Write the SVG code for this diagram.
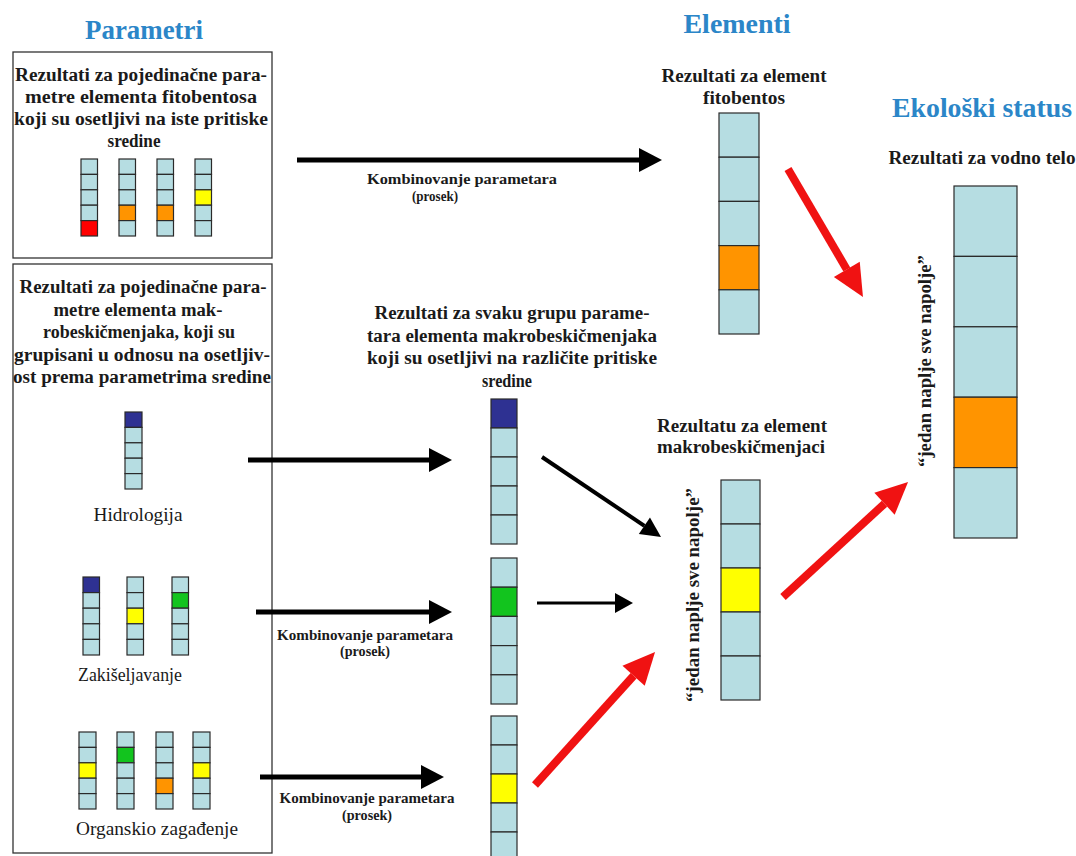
<svg xmlns="http://www.w3.org/2000/svg" width="1076" height="856" viewBox="0 0 1076 856" font-family="'Liberation Serif', 'DejaVu Serif', serif">
<style>
text{font-family:'Liberation Serif','DejaVu Serif',serif;font-weight:bold;fill:#1a1a1a;text-anchor:middle}
.t{font-size:27px;fill:#2b86c8}
.b{font-size:18px}
.k{font-size:14px}
.n{font-size:18px;font-weight:normal}
.r{font-size:18px}
.box{fill:#fff;stroke:#333;stroke-width:1.3}
.c{fill:#b6dde2;stroke:#2a2a2a;stroke-width:1.2}
.red{fill:#ff0000}.org{fill:#ff9400}.yel{fill:#ffff00}.grn{fill:#12c41e}.blu{fill:#2e3192}
.ab{stroke:#000;fill:none}
.ar{stroke:#f01212;stroke-width:8;fill:none}
</style>
<defs>
<marker id="hb" markerUnits="userSpaceOnUse" orient="auto" refX="0" refY="0" markerWidth="30" markerHeight="30" viewBox="0 -15 30 30" overflow="visible"><path d="M0,-12 L23,0 L0,12 z" fill="#000"/></marker>
<marker id="hbs" markerUnits="userSpaceOnUse" orient="auto" refX="0" refY="0" markerWidth="30" markerHeight="30" viewBox="0 -15 30 30" overflow="visible"><path d="M0,-10 L20,0 L0,10 z" fill="#000"/></marker>
<marker id="hbx" markerUnits="userSpaceOnUse" orient="auto" refX="0" refY="0" markerWidth="30" markerHeight="30" viewBox="0 -15 30 30" overflow="visible"><path d="M0,-10 L18,0 L0,10 z" fill="#000"/></marker>
<marker id="hr" markerUnits="userSpaceOnUse" orient="auto" refX="0" refY="0" markerWidth="40" markerHeight="40" viewBox="0 -20 40 40" overflow="visible"><path d="M0,-15 L32,0 L0,15 z" fill="#f01212"/></marker>
</defs>
<rect width="1076" height="856" fill="#fff"/>

<g id="titles">
<text class="t" x="144" y="39" textLength="118" lengthAdjust="spacingAndGlyphs">Parametri</text>
<text class="t" x="737" y="33" textLength="107" lengthAdjust="spacingAndGlyphs">Elementi</text>
<text class="t" x="982" y="117" textLength="180" lengthAdjust="spacingAndGlyphs">Ekološki status</text>
</g>

<g id="fito-params">
<rect class="box" x="13" y="52" width="259" height="206"/>
<text class="b" x="141" y="81" textLength="252" lengthAdjust="spacingAndGlyphs">Rezultati za pojedinačne para-</text>
<text class="b" x="141" y="103" textLength="232" lengthAdjust="spacingAndGlyphs">metre elementa fitobentosa</text>
<text class="b" x="141" y="125" textLength="254" lengthAdjust="spacingAndGlyphs">koji su osetljivi na iste pritiske</text>
<text class="b" x="134" y="147" textLength="53" lengthAdjust="spacingAndGlyphs">sredine</text>
<g>
<rect class="c" x="81" y="159" width="16.5" height="15.4"/><rect class="c" x="81" y="174.4" width="16.5" height="15.4"/><rect class="c" x="81" y="189.8" width="16.5" height="15.4"/><rect class="c" x="81" y="205.2" width="16.5" height="15.4"/><rect class="c red" x="81" y="220.6" width="16.5" height="15.4"/>
</g>
<g>
<rect class="c" x="119" y="159" width="16.5" height="15.4"/><rect class="c" x="119" y="174.4" width="16.5" height="15.4"/><rect class="c" x="119" y="189.8" width="16.5" height="15.4"/><rect class="c org" x="119" y="205.2" width="16.5" height="15.4"/><rect class="c" x="119" y="220.6" width="16.5" height="15.4"/>
</g>
<g>
<rect class="c" x="157" y="159" width="16.5" height="15.4"/><rect class="c" x="157" y="174.4" width="16.5" height="15.4"/><rect class="c" x="157" y="189.8" width="16.5" height="15.4"/><rect class="c org" x="157" y="205.2" width="16.5" height="15.4"/><rect class="c" x="157" y="220.6" width="16.5" height="15.4"/>
</g>
<g>
<rect class="c" x="195" y="159" width="16.5" height="15.4"/><rect class="c" x="195" y="174.4" width="16.5" height="15.4"/><rect class="c yel" x="195" y="189.8" width="16.5" height="15.4"/><rect class="c" x="195" y="205.2" width="16.5" height="15.4"/><rect class="c" x="195" y="220.6" width="16.5" height="15.4"/>
</g>
</g>

<g id="makro-params">
<rect class="box" x="13" y="264" width="259" height="589"/>
<text class="b" x="143" y="293" textLength="247" lengthAdjust="spacingAndGlyphs">Rezultati za pojedinačne para-</text>
<text class="b" x="138" y="315.5" textLength="169" lengthAdjust="spacingAndGlyphs">metre elementa mak-</text>
<text class="b" x="139" y="338" textLength="192" lengthAdjust="spacingAndGlyphs">robeskičmenjaka, koji su</text>
<text class="b" x="142" y="360.5" textLength="256" lengthAdjust="spacingAndGlyphs">grupisani u odnosu na osetljiv-</text>
<text class="b" x="142" y="383" textLength="258" lengthAdjust="spacingAndGlyphs">ost prema parametrima sredine</text>

<g id="hidro">
<rect class="c blu" x="125" y="412" width="17" height="15.4"/><rect class="c" x="125" y="427.4" width="17" height="15.4"/><rect class="c" x="125" y="442.8" width="17" height="15.4"/><rect class="c" x="125" y="458.2" width="17" height="15.4"/><rect class="c" x="125" y="473.6" width="17" height="15.4"/>
<text class="n" x="138" y="521" textLength="89" lengthAdjust="spacingAndGlyphs">Hidrologija</text>
</g>

<g id="zakis">
<rect class="c blu" x="83" y="577" width="16.5" height="15.6"/><rect class="c" x="83" y="592.6" width="16.5" height="15.6"/><rect class="c" x="83" y="608.2" width="16.5" height="15.6"/><rect class="c" x="83" y="623.8" width="16.5" height="15.6"/><rect class="c" x="83" y="639.4" width="16.5" height="15.6"/>
<rect class="c" x="127" y="577" width="16.5" height="15.6"/><rect class="c" x="127" y="592.6" width="16.5" height="15.6"/><rect class="c yel" x="127" y="608.2" width="16.5" height="15.6"/><rect class="c" x="127" y="623.8" width="16.5" height="15.6"/><rect class="c" x="127" y="639.4" width="16.5" height="15.6"/>
<rect class="c" x="172" y="577" width="16.5" height="15.6"/><rect class="c grn" x="172" y="592.6" width="16.5" height="15.6"/><rect class="c" x="172" y="608.2" width="16.5" height="15.6"/><rect class="c" x="172" y="623.8" width="16.5" height="15.6"/><rect class="c" x="172" y="639.4" width="16.5" height="15.6"/>
<text class="n" x="130" y="681" textLength="104" lengthAdjust="spacingAndGlyphs">Zakišeljavanje</text>
</g>

<g id="organ">
<rect class="c" x="79" y="732" width="17" height="15.4"/><rect class="c" x="79" y="747.4" width="17" height="15.4"/><rect class="c yel" x="79" y="762.8" width="17" height="15.4"/><rect class="c" x="79" y="778.2" width="17" height="15.4"/><rect class="c" x="79" y="793.6" width="17" height="15.4"/>
<rect class="c" x="117" y="732" width="17" height="15.4"/><rect class="c grn" x="117" y="747.4" width="17" height="15.4"/><rect class="c" x="117" y="762.8" width="17" height="15.4"/><rect class="c" x="117" y="778.2" width="17" height="15.4"/><rect class="c" x="117" y="793.6" width="17" height="15.4"/>
<rect class="c" x="156" y="732" width="17" height="15.4"/><rect class="c" x="156" y="747.4" width="17" height="15.4"/><rect class="c" x="156" y="762.8" width="17" height="15.4"/><rect class="c org" x="156" y="778.2" width="17" height="15.4"/><rect class="c" x="156" y="793.6" width="17" height="15.4"/>
<rect class="c" x="193" y="732" width="17" height="15.4"/><rect class="c" x="193" y="747.4" width="17" height="15.4"/><rect class="c yel" x="193" y="762.8" width="17" height="15.4"/><rect class="c" x="193" y="778.2" width="17" height="15.4"/><rect class="c" x="193" y="793.6" width="17" height="15.4"/>
<text class="n" x="157" y="835" textLength="162" lengthAdjust="spacingAndGlyphs">Organskio zagađenje</text>
</g>
</g>

<g id="group-results">
<text class="b" x="512" y="319" textLength="275" lengthAdjust="spacingAndGlyphs">Rezultati za svaku grupu parame-</text>
<text class="b" x="512" y="342" textLength="290" lengthAdjust="spacingAndGlyphs">tara elementa makrobeskičmenjaka</text>
<text class="b" x="512" y="364" textLength="290" lengthAdjust="spacingAndGlyphs">koji su osetljivi na različite pritiske</text>
<text class="b" x="507" y="387" textLength="50" lengthAdjust="spacingAndGlyphs">sredine</text>
<g id="g-hidro">
<rect class="c blu" x="491" y="399" width="26" height="29"/><rect class="c" x="491" y="428" width="26" height="29"/><rect class="c" x="491" y="457" width="26" height="29"/><rect class="c" x="491" y="486" width="26" height="29"/><rect class="c" x="491" y="515" width="26" height="29"/>
</g>
<g id="g-zakis">
<rect class="c" x="491" y="558" width="26" height="29.2"/><rect class="c grn" x="491" y="587.2" width="26" height="29.2"/><rect class="c" x="491" y="616.4" width="26" height="29.2"/><rect class="c" x="491" y="645.6" width="26" height="29.2"/><rect class="c" x="491" y="674.8" width="26" height="29.2"/>
</g>
<g id="g-organ">
<rect class="c" x="491" y="716" width="26" height="29"/><rect class="c" x="491" y="745" width="26" height="29"/><rect class="c yel" x="491" y="774" width="26" height="29"/><rect class="c" x="491" y="803" width="26" height="29"/><rect class="c" x="491" y="832" width="26" height="29"/>
</g>
</g>

<g id="fitobentos">
<text class="b" x="744" y="82" textLength="165" lengthAdjust="spacingAndGlyphs">Rezultati za element</text>
<text class="b" x="744" y="104" textLength="82" lengthAdjust="spacingAndGlyphs">fitobentos</text>
<rect class="c" x="719" y="113" width="40" height="44.2"/><rect class="c" x="719" y="157.2" width="40" height="44.2"/><rect class="c" x="719" y="201.4" width="40" height="44.2"/><rect class="c org" x="719" y="245.6" width="40" height="44.2"/><rect class="c" x="719" y="289.8" width="40" height="44.2"/>
</g>

<g id="makro">
<text class="b" x="742" y="432" textLength="170" lengthAdjust="spacingAndGlyphs">Rezultatu za element</text>
<text class="b" x="741" y="453" textLength="168" lengthAdjust="spacingAndGlyphs">makrobeskičmenjaci</text>
<rect class="c" x="721" y="480" width="39" height="44"/><rect class="c" x="721" y="524" width="39" height="44"/><rect class="c yel" x="721" y="568" width="39" height="44"/><rect class="c" x="721" y="612" width="39" height="44"/><rect class="c" x="721" y="656" width="39" height="44"/>
<text class="r" transform="translate(699,595) rotate(-90)" textLength="214" lengthAdjust="spacingAndGlyphs">“jedan naplje sve napolje”</text>
</g>

<g id="vodno-telo">
<text class="b" x="982" y="164" textLength="187" lengthAdjust="spacingAndGlyphs">Rezultati za vodno telo</text>
<rect class="c" x="954" y="186" width="63" height="70.4"/><rect class="c" x="954" y="256.4" width="63" height="70.4"/><rect class="c" x="954" y="326.8" width="63" height="70.4"/><rect class="c org" x="954" y="397.2" width="63" height="70.4"/><rect class="c" x="954" y="467.6" width="63" height="70.4"/>
<text class="r" transform="translate(931,361) rotate(-90)" textLength="212" lengthAdjust="spacingAndGlyphs">“jedan naplje sve napolje”</text>
</g>

<g id="connectors">
<line class="ab" x1="297" y1="160" x2="639" y2="160" stroke-width="5" marker-end="url(#hb)"/>
<text class="k" x="462" y="184" textLength="190" lengthAdjust="spacingAndGlyphs">Kombinovanje parametara</text>
<text class="k" x="435" y="201" textLength="46" lengthAdjust="spacingAndGlyphs">(prosek)</text>

<line class="ab" x1="248" y1="460" x2="429" y2="460" stroke-width="5" marker-end="url(#hb)"/>
<line class="ab" x1="256" y1="612" x2="429" y2="612" stroke-width="5" marker-end="url(#hb)"/>
<text class="k" x="365" y="640" textLength="176" lengthAdjust="spacingAndGlyphs">Kombinovanje parametara</text>
<text class="k" x="365" y="656" textLength="50" lengthAdjust="spacingAndGlyphs">(prosek)</text>
<line class="ab" x1="260" y1="777" x2="421" y2="777" stroke-width="5" marker-end="url(#hb)"/>
<text class="k" x="367" y="803" textLength="175" lengthAdjust="spacingAndGlyphs">Kombinovanje parametara</text>
<text class="k" x="367" y="820" textLength="50" lengthAdjust="spacingAndGlyphs">(prosek)</text>

<line class="ab" x1="542" y1="457" x2="644.4" y2="525.8" stroke-width="4" marker-end="url(#hbs)"/>
<line class="ab" x1="537" y1="603" x2="615" y2="603" stroke-width="3" marker-end="url(#hbx)"/>

<line class="ar" x1="788" y1="169" x2="846.8" y2="269.4" marker-end="url(#hr)"/>
<line class="ar" x1="535" y1="785" x2="633.6" y2="675.8" marker-end="url(#hr)"/>
<line class="ar" x1="783" y1="597" x2="884.5" y2="503.7" marker-end="url(#hr)"/>
</g>
</svg>
